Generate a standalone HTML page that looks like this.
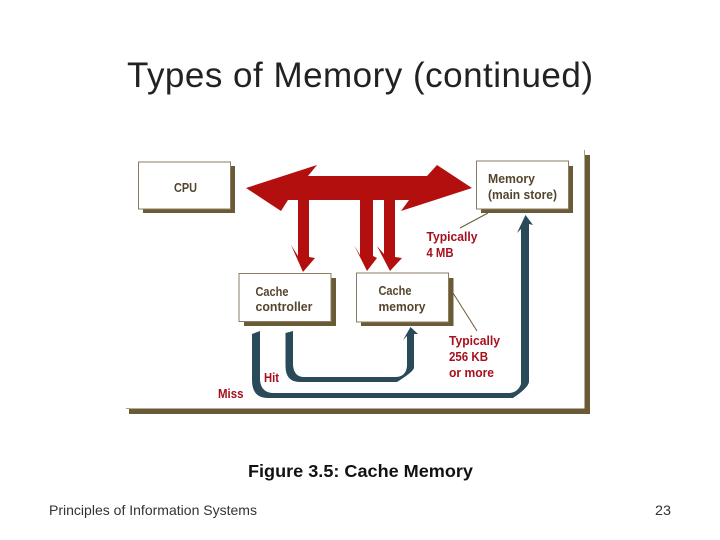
<!DOCTYPE html>
<html><head><meta charset="utf-8"><style>html,body{margin:0;padding:0;background:#fff;width:720px;height:540px;overflow:hidden}svg{display:block}text{font-family:"Liberation Sans",sans-serif}.n{font-size:13px;font-weight:bold;fill:#55452d}.r{font-size:13px;font-weight:bold;fill:#a5101c}</style></head><body>
<svg width="720" height="540" viewBox="0 0 720 540" xmlns="http://www.w3.org/2000/svg">
<rect width="720" height="540" fill="#fff"/>
<text x="127" y="87" font-size="35" fill="#222" textLength="466" lengthAdjust="spacing">Types of Memory (continued)</text>
<!-- frame -->
<rect x="584.500" y="155" width="5.500" height="259" fill="#6b5a36"/>
<rect x="129" y="408.500" width="461" height="5.500" fill="#6b5a36"/>
<line x1="584.500" y1="150" x2="584.500" y2="156" stroke="#a99f88" stroke-width="1"/>
<line x1="126" y1="408.500" x2="130" y2="408.500" stroke="#a99f88" stroke-width="1"/>
<!-- boxes -->
<rect x="143" y="166" width="92" height="47" fill="#6b5a36"/>
<rect x="138.500" y="162" width="92" height="47" fill="#fff" stroke="#8a7d63"/>
<rect x="481" y="166" width="92" height="47" fill="#6b5a36"/>
<rect x="476.500" y="161" width="92" height="48" fill="#fff" stroke="#8a7d63"/>
<rect x="244" y="278" width="92" height="48" fill="#6b5a36"/>
<rect x="239" y="273.500" width="92" height="48" fill="#fff" stroke="#8a7d63"/>
<rect x="361" y="278" width="92.500" height="48" fill="#6b5a36"/>
<rect x="356.500" y="273" width="92" height="49" fill="#fff" stroke="#8a7d63"/>
<!-- leaders -->
<line x1="488" y1="213" x2="460" y2="228" stroke="#6b5a36" stroke-width="1"/>
<line x1="453" y1="293" x2="477" y2="331" stroke="#6b5a36" stroke-width="1"/>
<!-- red arrows -->
<path fill="#b40f0f" d="M246 188 L317 165 L308 176 L427 176 L437 165 L472 188 L401 211 L409 200 L395 200 L395 257 L402 258 L390 271 L377 246 L384 254 L384 200 L373 200 L373 256 L377 258 L367 271 L354 245 L360 255 L360 200 L309 200 L309 257 L315 258 L303 272 L291 245 L298 256 L298 200 L288 200 L281 211 Z"/>
<!-- blue arrows -->
<path fill="#2a4a5a" d="M252 334 L260 331 L260 380 Q261 393 274 393 L510 393 Q518 392 521 384 L521 229 L517 233 L525.500 215 L533 225 L529 224 L529 382 Q528 388 513 398 L268 398 Q252 398 252 380 Z"/>
<path fill="#2a4a5a" d="M285.500 333 L293 331 L293 365 Q294 377 304 377 L395 377 Q406 377 407 366 L407 336 L403 340 L410.500 327 L418 334 L414 334 L414 368 Q413 372 397 382 L300 382 Q285.500 382 285.500 366 Z"/>
<!-- labels -->
<text class="n" x="174" y="192" textLength="23" lengthAdjust="spacingAndGlyphs">CPU</text>
<text class="n" x="488" y="183" textLength="47" lengthAdjust="spacingAndGlyphs">Memory</text>
<text class="n" x="488" y="199" textLength="69" lengthAdjust="spacingAndGlyphs">(main store)</text>
<text class="n" x="255.500" y="296" textLength="33" lengthAdjust="spacingAndGlyphs">Cache</text>
<text class="n" x="255.500" y="311" textLength="57" lengthAdjust="spacingAndGlyphs">controller</text>
<text class="n" x="378.500" y="295" textLength="33" lengthAdjust="spacingAndGlyphs">Cache</text>
<text class="n" x="378.500" y="311" textLength="47" lengthAdjust="spacingAndGlyphs">memory</text>
<text class="r" x="426.500" y="241" textLength="51" lengthAdjust="spacingAndGlyphs">Typically</text>
<text class="r" x="426.500" y="257" textLength="27" lengthAdjust="spacingAndGlyphs">4 MB</text>
<text class="r" x="449" y="345" textLength="51" lengthAdjust="spacingAndGlyphs">Typically</text>
<text class="r" x="449" y="361" textLength="39" lengthAdjust="spacingAndGlyphs">256 KB</text>
<text class="r" x="449" y="377" textLength="45" lengthAdjust="spacingAndGlyphs">or more</text>
<text class="r" x="264" y="382" textLength="15" lengthAdjust="spacingAndGlyphs">Hit</text>
<text class="r" x="218" y="398" textLength="25.500" lengthAdjust="spacingAndGlyphs">Miss</text>
<!-- caption/footer -->
<text x="248" y="477" font-size="17.500" font-weight="bold" fill="#111" textLength="225" lengthAdjust="spacingAndGlyphs">Figure 3.5: Cache Memory</text>
<text x="49" y="515" font-size="14" fill="#333" textLength="208" lengthAdjust="spacingAndGlyphs">Principles of Information Systems</text>
<text x="655" y="515" font-size="14" fill="#333" textLength="16" lengthAdjust="spacingAndGlyphs">23</text>
</svg>
</body></html>
